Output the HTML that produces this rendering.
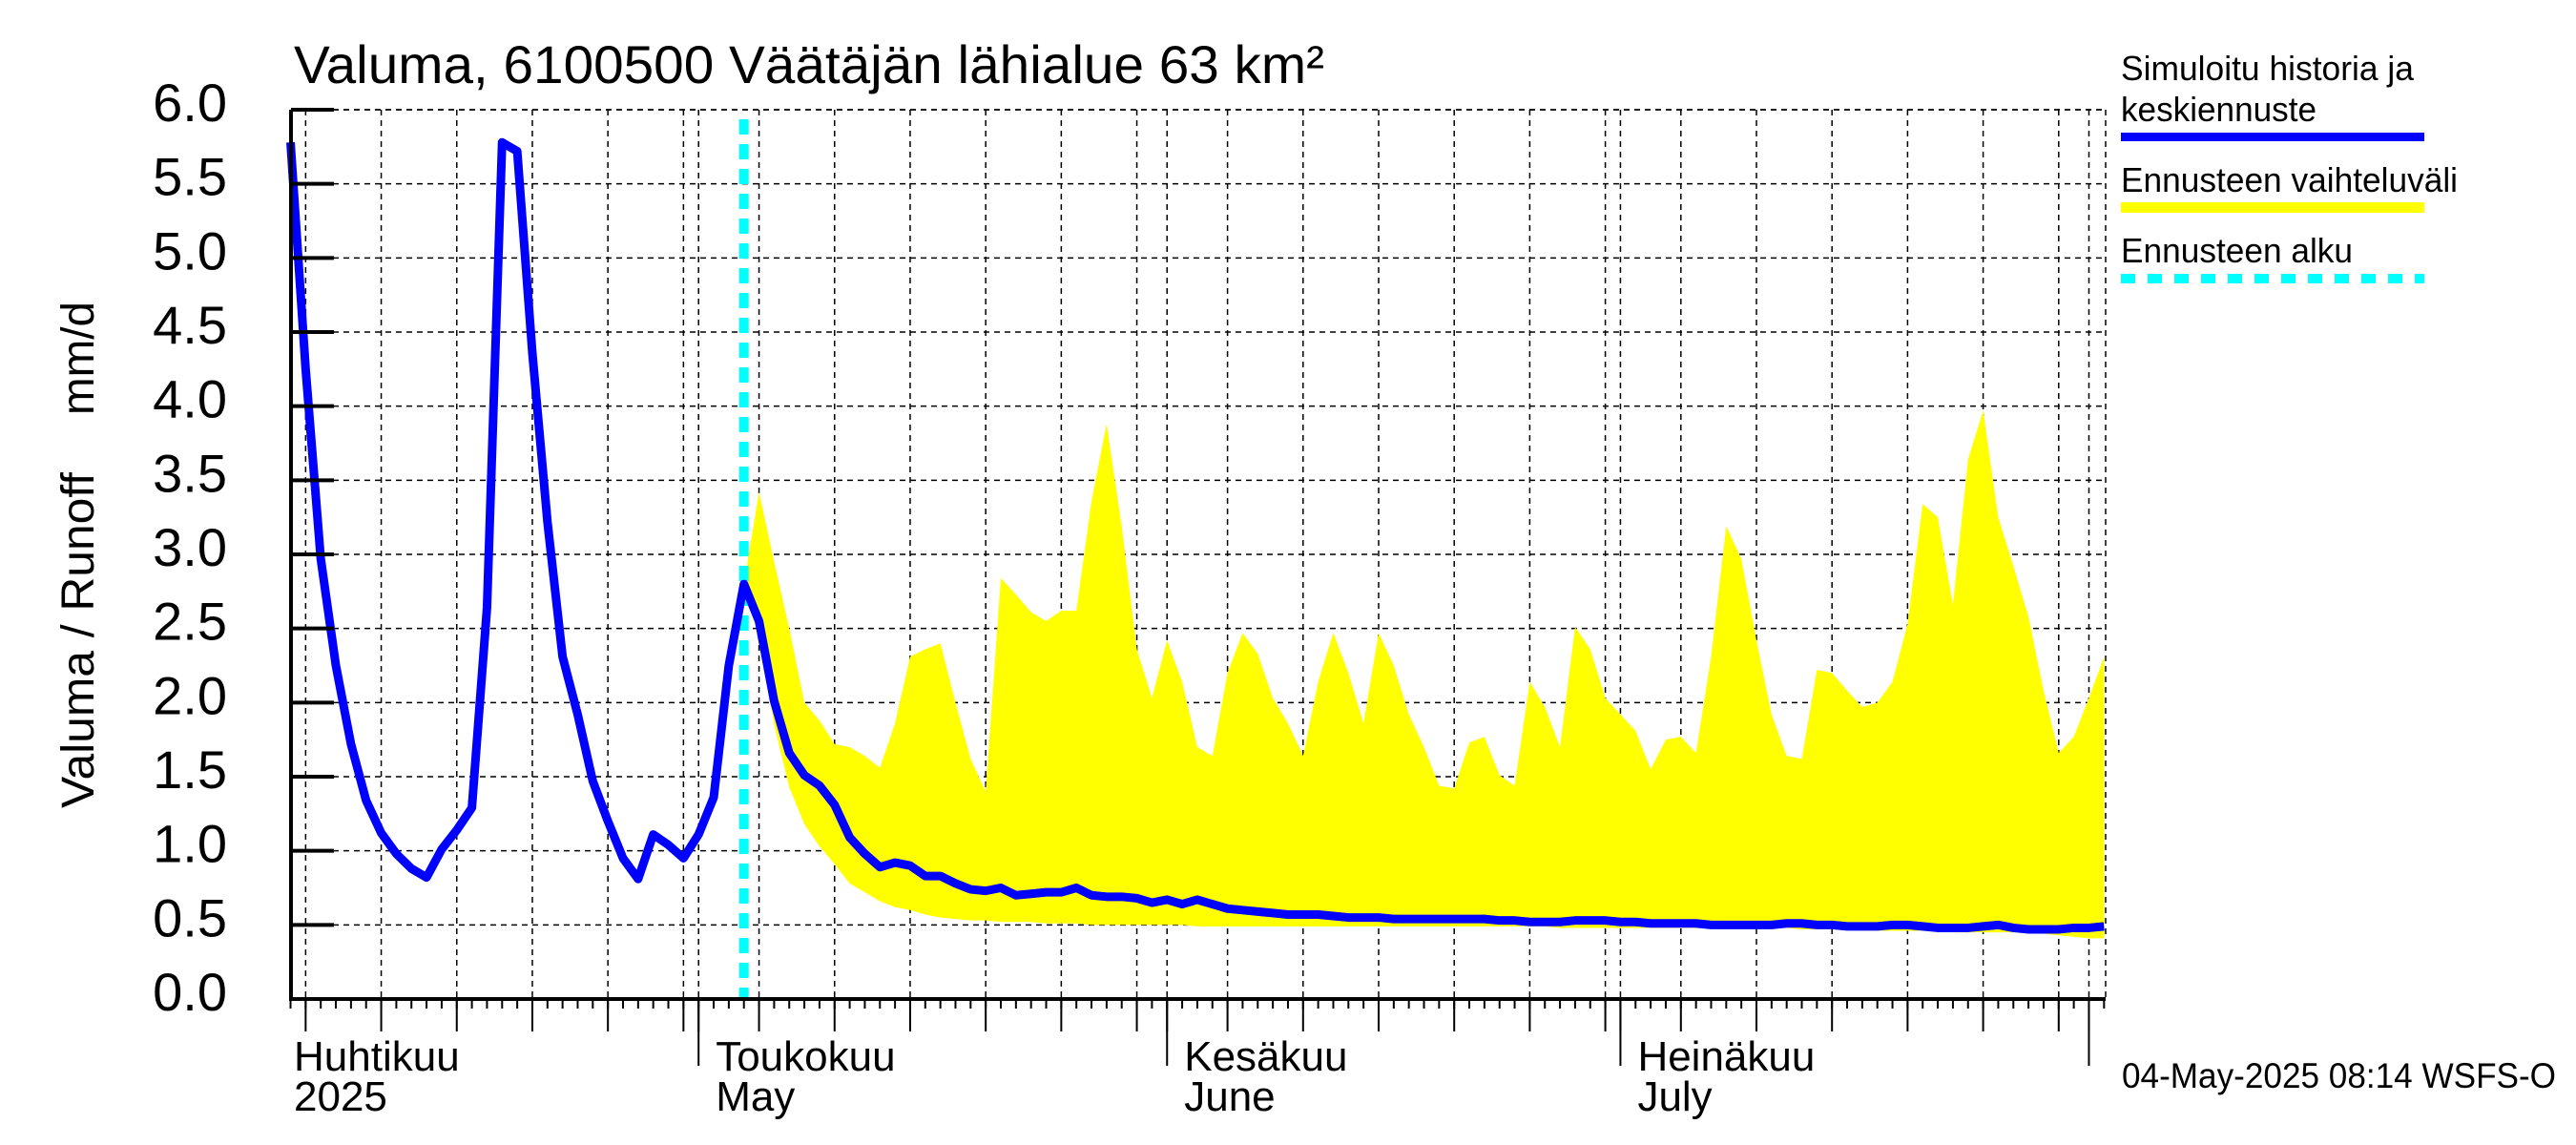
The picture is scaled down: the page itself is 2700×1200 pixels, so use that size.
<!DOCTYPE html>
<html><head><meta charset="utf-8"><style>
html,body{margin:0;padding:0;background:#fff;}
svg{display:block;font-family:"Liberation Sans",Arial,sans-serif;}
</style></head><body>
<svg id="chart" width="2700" height="1200" viewBox="0 0 2700 1200" xmlns="http://www.w3.org/2000/svg">
<rect x="0" y="0" width="2700" height="1200" fill="#fff"/>
<g id="grid"></g>
<g id="band"></g>
<g id="lines"></g>
<g id="axes"></g>
<text x="308" y="87" font-size="56" textLength="1080" lengthAdjust="spacingAndGlyphs">Valuma, 6100500 Väätäjän lähialue 63 km²</text>
<text transform="translate(98,847) rotate(-90)" font-size="48" textLength="352" lengthAdjust="spacingAndGlyphs">Valuma / Runoff</text>
<text transform="translate(98,435) rotate(-90)" font-size="48" textLength="119" lengthAdjust="spacingAndGlyphs">mm/d</text>
<g>
<text x="2223" y="84" font-size="36" textLength="307" lengthAdjust="spacingAndGlyphs">Simuloitu historia ja</text>
<text x="2223" y="127" font-size="36" textLength="205" lengthAdjust="spacingAndGlyphs">keskiennuste</text>
<rect x="2223" y="139" width="318" height="9" fill="#0000ff"/>
<text x="2223" y="201" font-size="36" textLength="353" lengthAdjust="spacingAndGlyphs">Ennusteen vaihteluväli</text>
<rect x="2223" y="212" width="318" height="11" fill="#ffff00"/>
<text x="2223" y="275" font-size="36" textLength="243" lengthAdjust="spacingAndGlyphs">Ennusteen alku</text>
<line x1="2223" y1="292" x2="2541" y2="292" stroke="#00ffff" stroke-width="10" stroke-dasharray="15 13"/>
</g>
<text x="2224" y="1140" font-size="37" textLength="455" lengthAdjust="spacingAndGlyphs">04-May-2025 08:14 WSFS-O</text>
</svg>
<script>
const startDay = 3;
const forecastIndex = 30;
const blueValues = [5.78,4.25,2.97,2.25,1.72,1.34,1.12,0.98,0.88,0.82,1.01,1.14,1.29,2.64,5.78,5.72,4.36,3.22,2.31,1.92,1.47,1.20,0.95,0.81,1.11,1.04,0.95,1.11,1.36,2.25,2.80,2.55,2.01,1.66,1.51,1.44,1.31,1.09,0.98,0.89,0.92,0.90,0.83,0.83,0.78,0.74,0.73,0.75,0.70,0.71,0.72,0.72,0.75,0.70,0.69,0.69,0.68,0.65,0.67,0.64,0.67,0.64,0.61,
0.60,0.59,0.58,0.57,0.57,0.57,0.56,0.55,0.55,0.55,0.54,0.54,0.54,0.54,0.54,0.54,0.54,0.53,0.53,0.52,0.52,0.52,0.53,0.53,0.53,0.52,0.52,0.51,0.51,0.51,0.51,0.50,0.50,0.50,0.50,0.50,0.51,0.51,0.50,0.50,0.49,0.49,0.49,0.50,0.50,0.49,0.48,0.48,0.48,0.49,0.50,0.48,0.47,0.47,0.47,0.48,0.48,0.49];
const upperValues = [2.8,3.42,2.95,2.5,2.0,1.88,1.72,1.70,1.64,1.56,1.86,2.31,2.36,2.40,2.0,1.62,1.40,2.84,2.73,2.61,2.55,2.62,2.62,3.36,3.88,3.19,2.36,2.03,2.42,2.14,1.70,1.64,2.20,2.47,2.33,2.03,1.86,1.64,2.14,2.47,2.20,1.86,2.47,2.25,1.92,1.70,1.44,1.42,1.73,1.77,1.51,1.44,2.14,1.97,1.70,2.51,2.36,2.03,1.92,1.81,1.55,1.75,1.77,1.66,2.31,3.19,2.97,2.42,1.92,1.64,1.62,2.22,2.20,2.08,1.97,2.00,2.14,2.53,3.34,3.25,2.66,3.64,3.97,3.25,2.92,2.58,2.08,1.66,1.77,2.03,2.31];
const lowerValues = [
2.75,2.45,1.85,1.43,1.18,1.03,0.91,0.78,0.72,0.66,
0.62,0.60,0.57,0.55,0.54,0.53,0.53,0.52,0.52,0.52,
0.51,0.51,0.51,0.50,0.50,0.50,0.50,0.50,0.50,0.50,
0.49,0.49,0.49,0.49,0.49,0.49,0.49,0.49,0.49,0.49,
0.49,0.49,0.49,0.49,0.49,0.49,0.49,0.49,0.49,0.49,
0.49,0.49,0.49,0.49,0.48,0.48,0.48,0.48,0.48,0.48,
0.48,0.48,0.48,0.48,0.48,0.48,0.48,0.48,0.48,0.48,
0.47,0.47,0.47,0.47,0.46,0.46,0.46,0.46,0.46,0.46,
0.45,0.45,0.45,0.45,0.45,0.45,0.44,0.43,0.42,0.41,
0.41];
const yTickLabels = ["0.0","0.5","1.0","1.5","2.0","2.5","3.0","3.5","4.0","4.5","5.0","5.5","6.0"];
const yTickValues = [0,0.5,1,1.5,2,2.5,3,3.5,4,4.5,5,5.5,6];
const monthStartDays = [0,30,61,91,122];
const monthNamesFi = ["Huhtikuu","Toukokuu","Kesäkuu","Heinäkuu",""];
const monthNamesEn = ["2025","May","June","July",""];

const NS="http://www.w3.org/2000/svg";
const X0=257, PXD=15.84, Y0=1047, PXV=155.33, LEFT=305, RIGHT=2207, TOP=115;
function xs(d){return X0+d*PXD;}
function ys(v){return Y0-v*PXV;}
function mk(tag,attrs,parent){const e=document.createElementNS(NS,tag);for(const k in attrs)e.setAttribute(k,attrs[k]);parent.appendChild(e);return e;}
const grid=document.getElementById('grid'),band=document.getElementById('band'),lines=document.getElementById('lines'),axes=document.getElementById('axes');

yTickValues.forEach((v,i)=>{
  if(v>0){const l=mk('line',{x1:LEFT,y1:ys(v),x2:RIGHT,y2:ys(v),stroke:'#000','stroke-width':1.5,'stroke-dasharray':'6 5'},grid);
  
  }
  const t=mk('line',{x1:LEFT,y1:ys(v),x2:350,y2:ys(v),stroke:'#000','stroke-width':4},axes);
  
  
  const tx=mk('text',{x:238,y:ys(v)+12,'font-size':56,'text-anchor':'end'},axes);
  
  
  tx.textContent=yTickLabels[i];
});
const gridDays=[];
for(let m=0;m<4;m++){for(let k=5;k<=30;k+=5){gridDays.push(monthStartDays[m]+k-1);}}
monthStartDays.forEach(d=>gridDays.push(d));
gridDays.forEach(d=>{
  const x=xs(d); if(x<LEFT||x>RIGHT+1)return;
  const l=mk('line',{x1:x,y1:TOP,x2:x,y2:Y0,stroke:'#000','stroke-width':1.5,'stroke-dasharray':'6 5'},grid);
  
  
  const t=mk('line',{x1:x,y1:Y0,x2:x,y2:1081,stroke:'#000','stroke-width':2},axes);
  
  
});
const rl=mk('line',{x1:RIGHT,y1:TOP,x2:RIGHT,y2:Y0,stroke:'#000','stroke-width':1.5,'stroke-dasharray':'6 5'},grid);


const tl=mk('line',{x1:LEFT,y1:TOP,x2:RIGHT,y2:TOP,stroke:'#000','stroke-width':1.5,'stroke-dasharray':'6 5'},grid);


for(let d=3;d<=123;d++){
  const t=mk('line',{x1:xs(d),y1:Y0,x2:xs(d),y2:1057,stroke:'#000','stroke-width':2},axes);
  
  
}
monthStartDays.forEach((d,i)=>{
  const x=xs(d);
  if(x>=LEFT){const t=mk('line',{x1:x,y1:Y0,x2:x,y2:1117,stroke:'#000','stroke-width':2},axes);
  
  }
  if(monthNamesFi[i]){
    const lx=Math.max(308,x+18);
    const a=mk('text',{x:lx,y:1122,'font-size':44},axes);
    
    
    a.textContent=monthNamesFi[i];
    const b=mk('text',{x:lx,y:1164,'font-size':44},axes);
    
    
    b.textContent=monthNamesEn[i];
  }
});
let pts=[];
upperValues.forEach((v,k)=>pts.push(xs(startDay+forecastIndex+k)+','+ys(v)));
for(let k=lowerValues.length-1;k>=0;k--)pts.push(xs(startDay+forecastIndex+k)+','+ys(lowerValues[k]));
const poly=mk('polygon',{points:pts.join(' '),fill:'#ffff00',stroke:'none'},band);


const cx=xs(startDay+forecastIndex);
const cl=mk('line',{x1:cx,y1:125,x2:cx,y2:Y0,stroke:'#00ffff','stroke-width':10,'stroke-dasharray':'16 10'},lines);


const bp=blueValues.map((v,i)=>xs(startDay+i)+','+ys(v)).join(' ');
const pl=mk('polyline',{points:bp,fill:'none',stroke:'#0000ff','stroke-width':9,'stroke-linejoin':'round'},lines);


const ax=mk('line',{x1:LEFT,y1:TOP,x2:LEFT,y2:Y0+2,stroke:'#000','stroke-width':4},axes);


const bx=mk('line',{x1:LEFT-2,y1:Y0,x2:RIGHT,y2:Y0,stroke:'#000','stroke-width':4},axes);


</script>
</body></html>
